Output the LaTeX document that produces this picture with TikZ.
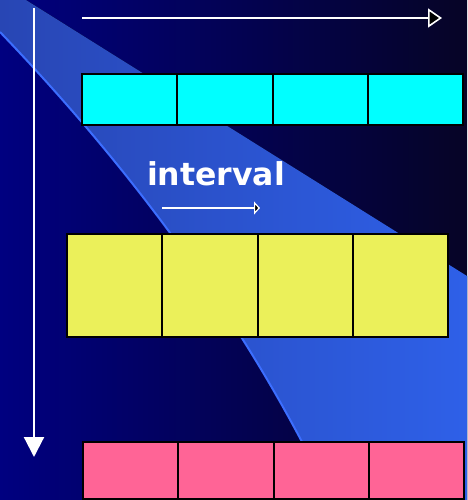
\documentclass[tikz,border=0pt]{standalone}
\usepackage{fontspec}
\setmainfont{DejaVu Sans}
\usetikzlibrary{arrows.meta}

\definecolor{bgL}{RGB}{0,0,128}
\definecolor{bgM}{RGB}{0,0,66}
\definecolor{bgR}{RGB}{6,4,38}
\definecolor{bandL}{RGB}{40,70,180}
\definecolor{bandR}{RGB}{46,96,232}
\definecolor{bandedge}{RGB}{60,110,255}
\definecolor{cyanc}{RGB}{0,255,255}
\definecolor{yellowc}{RGB}{235,240,90}
\definecolor{pinkc}{RGB}{255,100,150}

\begin{document}
\begin{tikzpicture}[x=1pt,y=-1pt,
  cell/.style={draw=black, line width=2pt, inner sep=0pt, outer sep=0pt,
               anchor=north west, minimum width=95.25pt},
  cyancell/.style={cell, fill=cyanc, minimum height=51pt},
  yellowcell/.style={cell, fill=yellowc, minimum height=103pt},
  pinkcell/.style={cell, fill=pinkc, minimum height=57pt},
  axisarrow/.style={draw=white, line width=2pt},
  label/.style={text=white, font=\bfseries\fontsize{31.5}{31.5}\selectfont, anchor=base, inner sep=0pt}]

\useasboundingbox (0,0) rectangle (467,500);

% background
\fill[left color=bgL, middle color=bgM, right color=bgR] (0,0) rectangle (467,500);

% light beam across the picture
\fill[left color=bandL, right color=bandR]
  (26,0) -- (467,276) -- (467,500) -- (333,500) -- (301,440)
  .. controls (226.3,299.3) and (126,163.3) .. (0,32) -- (0,0) -- cycle;
\draw[bandedge, line width=2pt]
  (333,500) -- (301,440) .. controls (226.3,299.3) and (126,163.3) .. (0,32);

% three rows of four cells
\foreach \i in {0,1,2,3} {
  \node[cyancell]   (c\i) at (82+\i*95.25,74) {};
  \node[yellowcell] (y\i) at (67+\i*95.25,234) {};
  \node[pinkcell]   (p\i) at (83+\i*95.25,442) {};
}

% axes
\coordinate (vs) at (34,8);
\coordinate (ve) at (34,457);
\draw[axisarrow, line width=2.2pt, -{Triangle[length=20pt,width=20pt,fill=white]}] (vs) -- (ve);

\coordinate (hs) at (82,18);
\coordinate (he) at (442,18);
\draw[axisarrow, line width=1.6pt, -{Triangle[length=14pt,width=19pt,fill=black]}] (hs) -- (he);

% interval label and its arrow
\node[label] (lbl) at (216,185) {interval};
\coordinate (is) at (162,208);
\coordinate (ie) at (260,208);
\draw[axisarrow, line width=1.2pt, -{Triangle[length=6pt,width=13pt,fill=black]}] (is) -- (ie);

\end{tikzpicture}
\end{document}
